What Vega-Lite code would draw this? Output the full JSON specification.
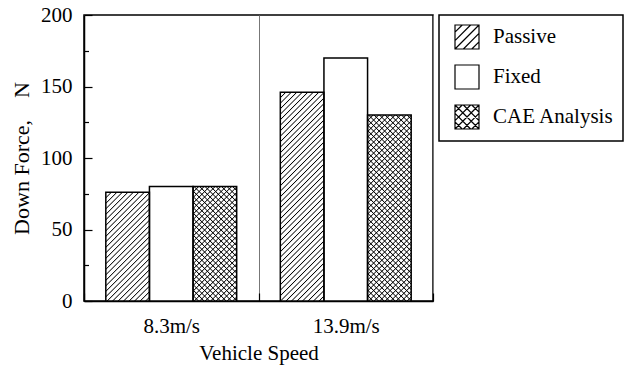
{
  "$schema": "https://vega.github.io/schema/vega-lite/v6.json",
  "width": 349,
  "height": 286,
  "autosize": {"type": "none"},
  "padding": {"left": 84, "top": 15, "right": 201, "bottom": 64},
  "background": "white",
  "params": [
    {
      "name": "hatchStops",
      "value": [
        {"offset": 0, "color": "black"}, {"offset": 0.004, "color": "transparent"}, {"offset": 0.016, "color": "transparent"},
        {"offset": 0.02, "color": "black"}, {"offset": 0.024, "color": "transparent"}, {"offset": 0.036, "color": "transparent"},
        {"offset": 0.04, "color": "black"}, {"offset": 0.044, "color": "transparent"}, {"offset": 0.056, "color": "transparent"},
        {"offset": 0.06, "color": "black"}, {"offset": 0.064, "color": "transparent"}, {"offset": 0.076, "color": "transparent"},
        {"offset": 0.08, "color": "black"}, {"offset": 0.084, "color": "transparent"}, {"offset": 0.096, "color": "transparent"},
        {"offset": 0.1, "color": "black"}, {"offset": 0.104, "color": "transparent"}, {"offset": 0.116, "color": "transparent"},
        {"offset": 0.12, "color": "black"}, {"offset": 0.124, "color": "transparent"}, {"offset": 0.136, "color": "transparent"},
        {"offset": 0.14, "color": "black"}, {"offset": 0.144, "color": "transparent"}, {"offset": 0.156, "color": "transparent"},
        {"offset": 0.16, "color": "black"}, {"offset": 0.164, "color": "transparent"}, {"offset": 0.176, "color": "transparent"},
        {"offset": 0.18, "color": "black"}, {"offset": 0.184, "color": "transparent"}, {"offset": 0.196, "color": "transparent"},
        {"offset": 0.2, "color": "black"}, {"offset": 0.204, "color": "transparent"}, {"offset": 0.216, "color": "transparent"},
        {"offset": 0.22, "color": "black"}, {"offset": 0.224, "color": "transparent"}, {"offset": 0.236, "color": "transparent"},
        {"offset": 0.24, "color": "black"}, {"offset": 0.244, "color": "transparent"}, {"offset": 0.256, "color": "transparent"},
        {"offset": 0.26, "color": "black"}, {"offset": 0.264, "color": "transparent"}, {"offset": 0.276, "color": "transparent"},
        {"offset": 0.28, "color": "black"}, {"offset": 0.284, "color": "transparent"}, {"offset": 0.296, "color": "transparent"},
        {"offset": 0.3, "color": "black"}, {"offset": 0.304, "color": "transparent"}, {"offset": 0.316, "color": "transparent"},
        {"offset": 0.32, "color": "black"}, {"offset": 0.324, "color": "transparent"}, {"offset": 0.336, "color": "transparent"},
        {"offset": 0.34, "color": "black"}, {"offset": 0.344, "color": "transparent"}, {"offset": 0.356, "color": "transparent"},
        {"offset": 0.36, "color": "black"}, {"offset": 0.364, "color": "transparent"}, {"offset": 0.376, "color": "transparent"},
        {"offset": 0.38, "color": "black"}, {"offset": 0.384, "color": "transparent"}, {"offset": 0.396, "color": "transparent"},
        {"offset": 0.4, "color": "black"}, {"offset": 0.404, "color": "transparent"}, {"offset": 0.416, "color": "transparent"},
        {"offset": 0.42, "color": "black"}, {"offset": 0.424, "color": "transparent"}, {"offset": 0.436, "color": "transparent"},
        {"offset": 0.44, "color": "black"}, {"offset": 0.444, "color": "transparent"}, {"offset": 0.456, "color": "transparent"},
        {"offset": 0.46, "color": "black"}, {"offset": 0.464, "color": "transparent"}, {"offset": 0.476, "color": "transparent"},
        {"offset": 0.48, "color": "black"}, {"offset": 0.484, "color": "transparent"}, {"offset": 0.496, "color": "transparent"},
        {"offset": 0.5, "color": "black"}, {"offset": 0.504, "color": "transparent"}, {"offset": 0.516, "color": "transparent"},
        {"offset": 0.52, "color": "black"}, {"offset": 0.524, "color": "transparent"}, {"offset": 0.536, "color": "transparent"},
        {"offset": 0.54, "color": "black"}, {"offset": 0.544, "color": "transparent"}, {"offset": 0.556, "color": "transparent"},
        {"offset": 0.56, "color": "black"}, {"offset": 0.564, "color": "transparent"}, {"offset": 0.576, "color": "transparent"},
        {"offset": 0.58, "color": "black"}, {"offset": 0.584, "color": "transparent"}, {"offset": 0.596, "color": "transparent"},
        {"offset": 0.6, "color": "black"}, {"offset": 0.604, "color": "transparent"}, {"offset": 0.616, "color": "transparent"},
        {"offset": 0.62, "color": "black"}, {"offset": 0.624, "color": "transparent"}, {"offset": 0.636, "color": "transparent"},
        {"offset": 0.64, "color": "black"}, {"offset": 0.644, "color": "transparent"}, {"offset": 0.656, "color": "transparent"},
        {"offset": 0.66, "color": "black"}, {"offset": 0.664, "color": "transparent"}, {"offset": 0.676, "color": "transparent"},
        {"offset": 0.68, "color": "black"}, {"offset": 0.684, "color": "transparent"}, {"offset": 0.696, "color": "transparent"},
        {"offset": 0.7, "color": "black"}, {"offset": 0.704, "color": "transparent"}, {"offset": 0.716, "color": "transparent"},
        {"offset": 0.72, "color": "black"}, {"offset": 0.724, "color": "transparent"}, {"offset": 0.736, "color": "transparent"},
        {"offset": 0.74, "color": "black"}, {"offset": 0.744, "color": "transparent"}, {"offset": 0.756, "color": "transparent"},
        {"offset": 0.76, "color": "black"}, {"offset": 0.764, "color": "transparent"}, {"offset": 0.776, "color": "transparent"},
        {"offset": 0.78, "color": "black"}, {"offset": 0.784, "color": "transparent"}, {"offset": 0.796, "color": "transparent"},
        {"offset": 0.8, "color": "black"}, {"offset": 0.804, "color": "transparent"}, {"offset": 0.816, "color": "transparent"},
        {"offset": 0.82, "color": "black"}, {"offset": 0.824, "color": "transparent"}, {"offset": 0.836, "color": "transparent"},
        {"offset": 0.84, "color": "black"}, {"offset": 0.844, "color": "transparent"}, {"offset": 0.856, "color": "transparent"},
        {"offset": 0.86, "color": "black"}, {"offset": 0.864, "color": "transparent"}, {"offset": 0.876, "color": "transparent"},
        {"offset": 0.88, "color": "black"}, {"offset": 0.884, "color": "transparent"}, {"offset": 0.896, "color": "transparent"},
        {"offset": 0.9, "color": "black"}, {"offset": 0.904, "color": "transparent"}, {"offset": 0.916, "color": "transparent"},
        {"offset": 0.92, "color": "black"}, {"offset": 0.924, "color": "transparent"}, {"offset": 0.936, "color": "transparent"},
        {"offset": 0.94, "color": "black"}, {"offset": 0.944, "color": "transparent"}, {"offset": 0.956, "color": "transparent"},
        {"offset": 0.96, "color": "black"}, {"offset": 0.964, "color": "transparent"}, {"offset": 0.976, "color": "transparent"},
        {"offset": 0.98, "color": "black"}, {"offset": 0.984, "color": "transparent"}, {"offset": 0.996, "color": "transparent"},
        {"offset": 1, "color": "black"}
      ]
    }
  ],
  "data": {
    "values": [
      {"speed": "8.3m/s", "series": "Passive", "force": 76},
      {"speed": "8.3m/s", "series": "Fixed", "force": 80},
      {"speed": "8.3m/s", "series": "CAE Analysis", "force": 80},
      {"speed": "13.9m/s", "series": "Passive", "force": 146},
      {"speed": "13.9m/s", "series": "Fixed", "force": 170},
      {"speed": "13.9m/s", "series": "CAE Analysis", "force": 130}
    ]
  },
  "encoding": {
    "x": {
      "field": "speed",
      "type": "nominal",
      "scale": {"domain": ["8.3m/s", "13.9m/s"], "paddingInner": 0, "paddingOuter": 0},
      "axis": {
        "title": "Vehicle Speed",
        "labelAngle": 0,
        "tickBand": "extent",
        "grid": true,
        "gridColor": "#777777",
        "gridWidth": 1,
        "tickSize": -8,
        "tickColor": "black",
        "tickWidth": 1.2,
        "labelPadding": 22,
        "domainColor": "black",
        "domainWidth": 1.5,
        "titlePadding": 6
      }
    },
    "xOffset": {
      "field": "series",
      "type": "nominal",
      "scale": {"domain": ["Passive", "Fixed", "CAE Analysis"], "paddingInner": 0, "paddingOuter": 0.5}
    },
    "y": {
      "field": "force",
      "type": "quantitative",
      "scale": {"domain": [0, 200]},
      "axis": {
        "title": "Down Force,\u00a0\u00a0\u00a0\u00a0N",
        "titleFontSize": 22,
        "values": [0, 25, 50, 75, 100, 125, 150, 175, 200],
        "labelExpr": "datum.value % 50 === 0 ? datum.label : ''",
        "tickSize": {"condition": {"test": "datum.value % 50 === 0", "value": -8}, "value": -4.5},
        "tickColor": "black",
        "tickWidth": 1.2,
        "labelPadding": 20,
        "grid": false,
        "domainColor": "black",
        "domainWidth": 1.5,
        "titlePadding": 7
      }
    }
  },
  "layer": [
    {"mark": {"type": "bar", "fill": "white"}},
    {
      "transform": [{"filter": "datum.series !== 'Fixed'"}],
      "mark": {
        "type": "bar",
        "fill": {"expr": "{gradient: 'linear', x1: 0, y1: 0, x2: 275*bandwidth('xOffset')/(pow(bandwidth('xOffset'),2)+pow(scale('y',0)-scale('y',datum.force),2)), y2: 275*(scale('y',0)-scale('y',datum.force))/(pow(bandwidth('xOffset'),2)+pow(scale('y',0)-scale('y',datum.force),2)), stops: hatchStops}"}
      }
    },
    {
      "transform": [{"filter": "datum.series === 'CAE Analysis'"}],
      "mark": {
        "type": "bar",
        "fill": {"expr": "{gradient: 'linear', x1: 0, y1: 1, x2: 275*bandwidth('xOffset')/(pow(bandwidth('xOffset'),2)+pow(scale('y',0)-scale('y',datum.force),2)), y2: 1-275*(scale('y',0)-scale('y',datum.force))/(pow(bandwidth('xOffset'),2)+pow(scale('y',0)-scale('y',datum.force),2)), stops: hatchStops}"}
      }
    },
    {"mark": {"type": "bar", "fill": "transparent", "stroke": "black", "strokeWidth": 1.5}},
    {
      "transform": [{"filter": "false"}],
      "mark": {"type": "point", "filled": false, "color": "black", "strokeWidth": 1.2},
      "encoding": {
        "shape": {
          "field": "series",
          "type": "nominal",
          "scale": {
            "domain": ["Passive", "Fixed", "CAE Analysis"],
            "range": [
              "M-1,-1H1V1H-1Z M-1,-0.4L-0.4,-1 M-1,0.3L0.3,-1 M-1,1L1,-1 M-0.3,1L1,-0.3 M0.4,1L1,0.4",
              "M-1,-1H1V1H-1Z",
              "M-1,-1H1V1H-1Z M-1,-0.4L-0.4,-1 M-1,0.3L0.3,-1 M-1,1L1,-1 M-0.3,1L1,-0.3 M0.4,1L1,0.4 M-1,0.4L-0.4,1 M-1,-0.3L0.3,1 M-1,-1L1,1 M-0.3,-1L1,0.3 M0.4,-1L1,-0.4"
            ]
          },
          "legend": {
            "title": null,
            "orient": "right",
            "offset": 6,
            "padding": 9,
            "symbolSize": 576,
            "symbolStrokeWidth": 1.2,
            "symbolStrokeColor": "black",
            "symbolOpacity": 1,
            "symbolOffset": 6,
            "labelOffset": 13,
            "rowPadding": 10,
            "labelLimit": 300,
            "labelExpr": "datum.label + '\u00a0\u00a0\u00a0\u00a0'"
          }
        }
      }
    }
  ],
  "config": {
    "font": "Liberation Serif",
    "view": {"stroke": "black", "strokeWidth": 1.5},
    "axis": {
      "labelFont": "Liberation Serif",
      "titleFont": "Liberation Serif",
      "labelFontSize": 21,
      "titleFontSize": 21,
      "titleFontWeight": "normal",
      "labelColor": "black",
      "titleColor": "black"
    },
    "legend": {
      "labelFont": "Liberation Serif",
      "labelFontSize": 21,
      "labelColor": "black",
      "strokeColor": "black",
      "strokeWidth": 1.5
    }
  }
}
